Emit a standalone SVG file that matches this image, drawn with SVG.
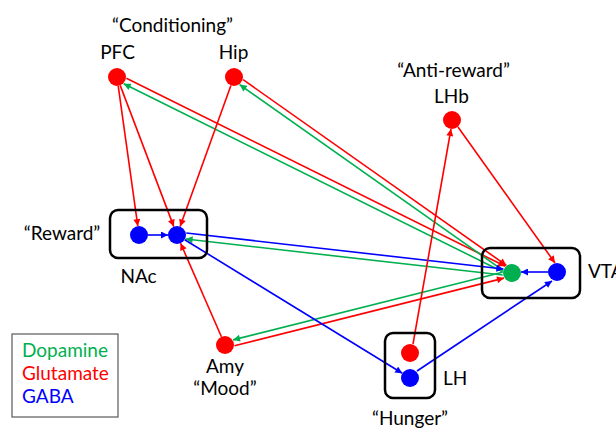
<svg xmlns="http://www.w3.org/2000/svg" width="616" height="428" viewBox="0 0 616 428">
<style>
text{font-family:Lato,"Liberation Sans",sans-serif;font-size:19px;fill:#000}
.m{text-anchor:middle}
.r{fill:#FF0000}.g{fill:#00B050}.b{fill:#0000FF}
.box{fill:none;stroke:#000;stroke-width:2.5}
.lr{stroke:#FF0000;stroke-width:1.6;fill:none;marker-end:url(#ar)}
.lg{stroke:#00B050;stroke-width:1.6;fill:none;marker-end:url(#ag)}
.lb{stroke:#0000FF;stroke-width:1.6;fill:none;marker-end:url(#ab)}
</style>
<defs>
<marker id="ar" viewBox="0 0 10 10" refX="10" refY="5" markerWidth="8" markerHeight="7" markerUnits="userSpaceOnUse" orient="auto"><path d="M0,0L10,5L0,10z" fill="#FF0000"/></marker>
<marker id="ag" viewBox="0 0 10 10" refX="10" refY="5" markerWidth="8" markerHeight="7" markerUnits="userSpaceOnUse" orient="auto"><path d="M0,0L10,5L0,10z" fill="#00B050"/></marker>
<marker id="ab" viewBox="0 0 10 10" refX="10" refY="5" markerWidth="8" markerHeight="7" markerUnits="userSpaceOnUse" orient="auto"><path d="M0,0L10,5L0,10z" fill="#0000FF"/></marker>
</defs>
<rect width="616" height="428" fill="#fff"/>
<g id="connectors">
<line class="lr" x1="126.4" y1="78.3" x2="505.3" y2="266.3"/>
<line class="lg" x1="502.6" y1="271.7" x2="123.7" y2="83.7"/>
<line class="lr" x1="243.1" y1="79.7" x2="506.4" y2="265.4"/>
<line class="lg" x1="502.9" y1="270.3" x2="239.6" y2="84.6"/>
<line class="lb" x1="186.3" y1="233" x2="503.4" y2="269"/>
<line class="lg" x1="502.7" y1="275" x2="185.6" y2="239"/>
<line class="lr" x1="234.5" y1="345.7" x2="504" y2="278.1"/>
<line class="lg" x1="502.5" y1="272.3" x2="233" y2="339.9"/>
<line class="lr" x1="118.2" y1="85.9" x2="137.8" y2="226.1"/>
<line class="lr" x1="120.2" y1="85.4" x2="173.8" y2="226.6"/>
<line class="lr" x1="230.9" y1="85.5" x2="180.1" y2="226.5"/>
<line class="lr" x1="221.4" y1="336.7" x2="180.6" y2="243.3"/>
<line class="lb" x1="148" y1="235" x2="168" y2="235"/>
<line class="lb" x1="184.7" y1="239.7" x2="402.3" y2="373.3"/>
<line class="lb" x1="417" y1="371" x2="552" y2="281"/>
<line class="lb" x1="548" y1="272" x2="521" y2="272"/>
<line class="lr" x1="458" y1="127" x2="555" y2="263"/>
<line class="lr" x1="413" y1="344" x2="451" y2="129"/>
</g>
<g id="title-conditioning"><text class="m" x="172.5" y="32">“Conditioning”</text></g>
<g id="PFC"><circle class="r" cx="117" cy="77" r="9"/><text class="m" x="117.5" y="59">PFC</text></g>
<g id="Hip"><circle class="r" cx="234" cy="77" r="9"/><text class="m" x="233.5" y="59">Hip</text></g>
<g id="LHb"><circle class="r" cx="452" cy="120" r="9"/><text class="m" x="453.5" y="77">“Anti-reward”</text><text class="m" x="451.5" y="103">LHb</text></g>
<g id="NAc"><rect class="box" x="110" y="210" width="97" height="48" rx="8"/><circle class="b" cx="139" cy="235" r="9"/><circle class="b" cx="177" cy="235" r="9"/><text class="m" x="62" y="240">“Reward”</text><text class="m" x="138.5" y="283">NAc</text></g>
<g id="VTA"><rect class="box" x="482" y="248" width="98" height="50" rx="8"/><circle class="g" cx="512" cy="273" r="9"/><circle class="b" cx="557" cy="272" r="9"/><text x="588" y="278">VTA</text></g>
<g id="LH"><rect class="box" x="385" y="333" width="50" height="65" rx="8"/><circle class="r" cx="410" cy="353" r="9"/><circle class="b" cx="410" cy="378" r="9"/><text x="443" y="385">LH</text><text class="m" x="410" y="425">“Hunger”</text></g>
<g id="Amy"><circle class="r" cx="225" cy="345" r="9"/><text class="m" x="225" y="373">Amy</text><text class="m" x="225" y="395">“Mood”</text></g>
<g id="legend"><rect x="12" y="334" width="106" height="83" fill="none" stroke="#595959" stroke-width="1.2"/><text class="g" x="22" y="357">Dopamine</text><text class="r" x="22" y="380">Glutamate</text><text class="b" x="22" y="403">GABA</text></g>
</svg>
